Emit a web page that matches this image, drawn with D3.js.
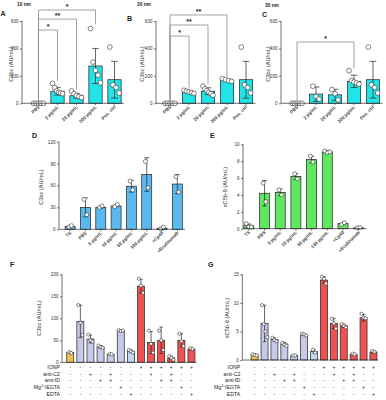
<!DOCTYPE html>
<html>
<head>
<meta charset="utf-8">
<script src="https://cdn.jsdelivr.net/npm/d3@7"></script>
<style>
  body { margin: 0; background: #fff; }
  svg { font-family: "Liberation Sans", Arial, sans-serif; }
</style>
</head>
<body>
<div id="chart"></div>
<script>
// ---- data ----
var abcCats = ["PBS", "2 µg/mL", "20 µg/mL", "200 µg/mL", "Pos. ctrl"];

var aMeans = [0, 88, 55, 272, 172];
var aSD = [0, 28, 18, 128, 134];
var aPoints = [[0, 0, 0, 0, 0], [145, 115, 90, 80, 75, 70], [90, 70, 55, 48, 42], [545, 300, 240, 205, 150], [410, 135, 115, 75]];

var bMeans = [0, 82, 88, 168, 172];
var bSD = [0, 10, 25, 8, 134];
var bPoints = [[0, 0, 0, 0, 0], [95, 88, 82, 78, 72], [125, 105, 92, 80, 70, 58], [180, 172, 165, 160], [410, 135, 115, 75]];

var cMeans = [0, 67, 62, 160, 172];
var cSD = [0, 52, 40, 45, 134];
var cPoints = [[0, 0, 0, 0, 0], [125, 50, 30], [100, 70, 25], [238, 165, 155, 148, 140], [410, 135, 115, 75]];

// brackets: [from index, to index, bracket level, right leg end, label]
var aBrackets = [[0, 3, 680, 575, "*"], [0, 2, 614, 100, "**"], [0, 1, 534, 160, "*"]];
var bBrackets = [[0, 3, 644, 190, "**"], [0, 2, 571, 140, "**"], [0, 1, 490, 110, "*"]];
var cBrackets = [[0, 3, 447, 255, "*"]];

var deCats = ["TS", "PBS", "5 µg/mL", "10 µg/mL", "50 µg/mL", "100 µg/mL", "+Cp40", "+Eculizumab"];
var dMeans = [4, 30, 30, 32, 59, 75, 1.5, 62];
var dSD = [1, 13, 1, 1, 8, 23, 1, 13];
var dPoints = [[3, 5], [41, 20], [30, 32], [31, 34], [66, 54], [93, 57], [0.5, 3], [72, 51]];

var eMeans = [0.35, 4.2, 4.3, 6.2, 8.2, 9.1, 0.6, 0.1];
var eSD = [0.2, 1.5, 0.4, 0.35, 0.4, 0.15, 0.1, 0.05];
var ePoints = [[0.6, 0.2, 0.2], [5.4, 3.2], [4.6, 4.0], [6.5, 5.9], [8.6, 7.9], [9.2, 9.0, 9.1], [0.5, 0.7], [0.1, 0.15]];

var fgCols = d3.range(1, 14).map(String);
var fgGroup = ["ctrl", "serum", "serum", "serum", "serum", "serum", "edta", "ionp", "ionp", "ionp", "ionp", "ionp", "ionp"];

var fMeans = [22, 93, 53, 35, 18, 72, 25, 173, 45, 50, 10, 50, 30];
var fSD = [2, 37, 9, 3, 1, 1, 3, 16, 25, 30, 4, 15, 2];
var fPoints = [[23, 21], [130, 90, 62], [63, 50, 47], [38, 35, 33], [19, 18], [73, 71, 72], [28, 25, 22], [190, 174, 158], [72, 42, 22], [72, 50, 28], [14, 10, 6], [65, 48, 37], [32, 30]];

var gMeans = [0.9, 6.4, 3.6, 2.8, 0.8, 4.4, 1.5, 14.0, 6.4, 6.0, 1.0, 7.4, 1.4];
var gSD = [0.1, 3.2, 0.3, 0.3, 0.05, 0.15, 0.3, 0.6, 0.9, 0.3, 0.1, 0.6, 0.2];
var gPoints = [[1.0, 0.9, 0.8], [9.6, 6.3, 5.0, 4.0], [3.9, 3.5, 3.3], [3.0, 2.7, 2.5], [0.8, 0.8], [4.6, 4.5, 4.3], [1.8, 1.3], [14.6, 14.2, 13.4], [7.2, 6.4, 5.5], [6.3, 6.0, 5.7], [1.1, 1.0], [8.1, 7.4, 7.3], [1.6, 1.4]];

var tableRows = ["IONP", "anti-C2", "anti-fD", "Mg/EGTA", "EDTA"];
var tableSigns = [
  "-------++++++",
  "--+-+---+-+--",
  "---++----++--",
  "-----+-----+-",
  "------+-----+"
];

var fgColor = d3.scaleOrdinal()
  .domain(["ctrl", "serum", "edta", "ionp"])
  .range(["#f2c14e", "#c6cae8", "#c4d8ef", "#ee5252"]);

var svg = d3.select("#chart").append("svg")
  .attr("width", 386)
  .attr("height", 400);

function panel(o) {
  var g = svg.append("g");
  var x = d3.scaleBand().domain(o.cats).range(o.xr).paddingInner(0.3).paddingOuter(0.15);
  var y = d3.scaleLinear().domain([0, o.max]).range(o.yr);
  var bw = o.barW || x.bandwidth();
  var cx = function (i) { return x(o.cats[i]) + x.bandwidth() / 2; };

  // bars
  g.selectAll("rect.bar").data(o.means).enter().append("rect")
    .attr("x", function (d, i) { return cx(i) - bw / 2; })
    .attr("y", function (d) { return y(d); })
    .attr("width", bw)
    .attr("height", function (d) { return y(0) - y(d); })
    .attr("fill", function (d, i) { return o.color(i); })
    .attr("stroke", "#222")
    .attr("stroke-width", 0.7);

  // error bars
  o.means.forEach(function (m, i) {
    var s = o.sd[i];
    if (!s) return;
    var c = cx(i), cap = bw * 0.25;
    g.append("path")
      .attr("d", "M" + c + "," + y(Math.max(0, m - s)) + "V" + y(m + s) +
        "M" + (c - cap) + "," + y(m + s) + "H" + (c + cap) +
        "M" + (c - cap) + "," + y(Math.max(0, m - s)) + "H" + (c + cap))
      .attr("stroke", "#222").attr("stroke-width", 0.7).attr("fill", "none");
  });

  // points
  o.points.forEach(function (pts, i) {
    var n = pts.length;
    var step = n > 1 ? Math.min(o.r * 1.3, bw * 0.75 / (n - 1)) : 0;
    pts.forEach(function (v, j) {
      g.append("circle")
        .attr("cx", cx(i) + (j - (n - 1) / 2) * step)
        .attr("cy", y(v))
        .attr("r", o.r)
        .attr("fill", "#fff")
        .attr("stroke", "#333")
        .attr("stroke-width", 0.6);
    });
  });

  // axes
  var yAxis = d3.axisLeft(y).tickValues(o.ticks).tickSize(2).tickPadding(1.5).tickFormat(d3.format("d"));
  var ya = g.append("g").attr("transform", "translate(" + o.axisX + ",0)").call(yAxis);
  ya.select(".domain").attr("d", "M0," + y(0) + "V" + y(o.max)).attr("stroke", "#333").attr("stroke-width", 0.7);
  ya.selectAll(".tick line").attr("stroke", "#333").attr("stroke-width", 0.7);
  ya.selectAll("text").attr("font-size", 4.6).attr("fill", "#333");

  var xa = g.append("g");
  xa.append("line")
    .attr("x1", o.axisX).attr("x2", o.xr[1])
    .attr("y1", y(0)).attr("y2", y(0))
    .attr("stroke", "#333").attr("stroke-width", 0.7);
  if (!o.noXLabels) {
    o.cats.forEach(function (c, i) {
      xa.append("line").attr("x1", cx(i)).attr("x2", cx(i))
        .attr("y1", y(0)).attr("y2", y(0) + 2)
        .attr("stroke", "#333").attr("stroke-width", 0.6);
      xa.append("text")
        .attr("transform", "translate(" + (cx(i) + 1.5) + "," + (y(0) + 4) + ") rotate(-45)")
        .attr("text-anchor", "end")
        .attr("font-size", o.xFont || 4.6)
        .attr("font-weight", "bold")
        .attr("fill", "#444")
        .text(c);
    });
  }

  // y title
  g.append("text")
    .attr("transform", "translate(" + o.titleX + "," + o.titleY + ") rotate(-90)")
    .attr("text-anchor", "middle")
    .attr("font-size", 5.6)
    .attr("fill", "#333")
    .text(o.yTitle);

  // significance brackets
  (o.brackets || []).forEach(function (b) {
    var x1 = cx(b[0]), x2 = cx(b[1]);
    g.append("path")
      .attr("d", "M" + x1 + "," + y(12) + "V" + y(b[2]) + "H" + x2 + "V" + y(b[3]))
      .attr("fill", "none").attr("stroke", "#8a8a8a").attr("stroke-width", 0.8);
    g.append("text")
      .attr("x", (x1 + x2) / 2).attr("y", y(b[2]) - 0.8)
      .attr("text-anchor", "middle")
      .attr("font-size", 7).attr("font-weight", "bold")
      .attr("fill", "#222")
      .text(b[4]);
  });

  return { x: x, y: y, cx: cx };
}

function label(txt, xp, yp, size) {
  svg.append("text").attr("x", xp).attr("y", yp)
    .attr("font-size", size).attr("font-weight", "bold").attr("fill", "#222")
    .text(txt);
}

var cyan = function () { return "#22e3e6"; };

panel({ cats: abcCats, means: aMeans, sd: aSD, points: aPoints, brackets: aBrackets,
  xr: [29, 124], yr: [103.3, 21], max: 600, ticks: [0, 200, 400, 600], axisX: 22,
  color: cyan, r: 2.4, yTitle: "C3bc (AU/mL)", titleX: 13, titleY: 64 });
panel({ cats: abcCats, means: bMeans, sd: bSD, points: bPoints, brackets: bBrackets,
  xr: [160.5, 255.5], yr: [103.3, 21], max: 600, ticks: [0, 200, 400, 600], axisX: 156,
  color: cyan, r: 2.4, yTitle: "C3bc (AU/mL)", titleX: 144, titleY: 64 });
panel({ cats: abcCats, means: cMeans, sd: cSD, points: cPoints, brackets: cBrackets,
  xr: [287.5, 382.5], yr: [103.3, 21], max: 600, ticks: [0, 200, 400, 600], axisX: 281,
  color: cyan, r: 2.4, yTitle: "C3bc (AU/mL)", titleX: 270, titleY: 64 });

panel({ cats: deCats, means: dMeans, sd: dSD, points: dPoints,
  xr: [62.5, 185], yr: [229.3, 141.7], max: 120, ticks: [0, 30, 60, 90, 120], axisX: 59,
  color: function () { return "#5bb9f0"; }, r: 2, barW: 10, yTitle: "C3bc (AU/mL)", titleX: 43, titleY: 187 });
panel({ cats: deCats, means: eMeans, sd: eSD, points: ePoints,
  xr: [241, 366.5], yr: [228.7, 144.3], max: 10, ticks: [0, 2, 4, 6, 8, 10], axisX: 243,
  color: function () { return "#5fe85f"; }, r: 2, barW: 10, yTitle: "sC5b-9 (AU/mL)", titleX: 227, titleY: 187 });

var fp = panel({ cats: fgCols, means: fMeans, sd: fSD, points: fPoints, noXLabels: true,
  xr: [65.2, 196.5], yr: [362.3, 274.3], max: 200, ticks: [0, 50, 100, 150, 200], axisX: 62,
  color: function (i) { return fgColor(fgGroup[i]); }, r: 1.6, barW: 7, yTitle: "C3bc (AU/mL)", titleX: 41, titleY: 318 });
var gp = panel({ cats: fgCols, means: gMeans, sd: gSD, points: gPoints, noXLabels: true,
  xr: [249.7, 378.4], yr: [360, 274.3], max: 15, ticks: [0, 5, 10, 15], axisX: 242.3,
  color: function (i) { return fgColor(fgGroup[i]); }, r: 1.6, barW: 7, yTitle: "sC5b-9 (AU/mL)", titleX: 229, titleY: 318 });

var rowY = [368.8, 375.6, 382.2, 389, 395.6];
function table(p, axisX) {
  tableRows.forEach(function (r, ri) {
    var t = svg.append("text")
      .attr("x", axisX - 2).attr("y", rowY[ri])
      .attr("text-anchor", "end")
      .attr("font-size", 5.2).attr("fill", "#222");
    if (r === "Mg/EGTA") {
      t.append("tspan").text("Mg");
      t.append("tspan").attr("font-size", 3.4).attr("dy", -2).text("2+");
      t.append("tspan").attr("dy", 2).text("/EGTA");
    } else {
      t.text(r);
    }
    tableSigns[ri].split("").forEach(function (s, ci) {
      svg.append("text")
        .attr("x", p.cx(ci)).attr("y", rowY[ri])
        .attr("text-anchor", "middle")
        .attr("font-size", 5).attr("fill", "#222")
        .text(s === "+" ? "+" : "-");
    });
  });
}
table(fp, 62);
table(gp, 242.3);

label("A", 0.5, 16, 7);
label("B", 127, 21, 7);
label("C", 262, 17, 7);
label("D", 32, 138, 7);
label("E", 210, 138, 7);
label("F", 10, 267, 7);
label("G", 208, 267, 7);
label("10 nm", 17, 6, 4.8);
label("20 nm", 137, 6, 4.8);
label("30 nm", 265, 7, 4.8);
</script>
</body>
</html>
